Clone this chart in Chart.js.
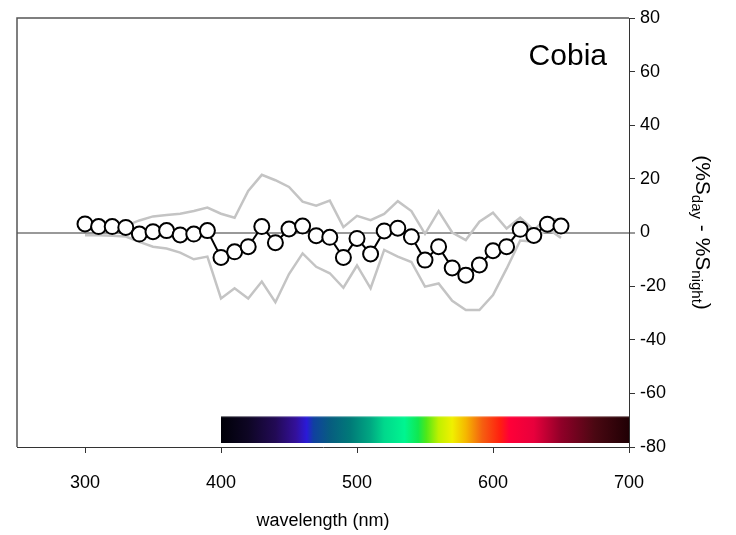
<!DOCTYPE html>
<html lang="en">
<head>
<meta charset="UTF-8">
<title>Cobia - day/night difference</title>
<style>
body { margin:0; padding:0; background:#fff; }
#wrap { width:736px; height:535px; }
</style>
</head>
<body>
<div id="wrap"><canvas id="chart" width="736" height="535"></canvas></div>
<script src="https://cdn.jsdelivr.net/npm/chart.js"></script>
<script>
// data
const wavelengths = [300,310,320,330,340,350,360,370,380,390,400,410,420,430,440,450,460,470,
                     480,490,500,510,520,530,540,550,560,570,580,590,600,610,620,630,640,650];
const difference = [3.2,2.2,2.2,1.9,-0.6,0.3,0.7,-0.9,-0.6,0.7,-9.3,-7.2,-5.3,2.2,-3.8,1.3,2.4,-1.2,
                    -1.8,-9.3,-2.2,-8.0,0.6,1.6,-1.6,-10.3,-5.3,-13.2,-15.9,-12.1,-6.8,-5.3,1.2,-1.1,3.1,2.4];
const upperBound = [2.5,2.5,2.5,2.5,4.5,6,6.5,7,8,9.3,7,5.5,15.5,21.5,19.5,17,11.5,10,
                    11.9,2,6.2,4.6,6.9,11.7,8,-0.5,8,0,-2.8,4,7.4,1.5,5.5,1,5.5,4.5];
const lowerBound = [-1,-1,-1.2,-1.5,-3.5,-5.3,-6,-7.5,-10,-9,-24.6,-20.8,-24.6,-18.3,-26,-15.5,-7.8,-12.8,
                    -15.2,-20.6,-12.3,-20.8,-6.5,-9,-11,-20.2,-19,-25.5,-28.9,-28.9,-23.3,-13.5,-3,-3.4,1.6,-2];
const spectrumRange = [400, 700];
const spectrumLevels = [-68.5, -78.5];
const xTicks = [300, 400, 500, 600, 700];
const yTicks = [-80, -60, -40, -20, 0, 20, 40, 60, 80];
const panelTitle = 'Cobia';

// colour stops of the visible spectrum bar
const spectrumStops = [
  [400,'#000008'],[420,'#0e0624'],[440,'#220a55'],[455,'#33109a'],[463,'#2a1ad8'],[468,'#1040a0'],
  [480,'#075c80'],[495,'#007a78'],[510,'#00a882'],[520,'#00d88c'],[535,'#00f590'],[545,'#10e850'],
  [551,'#50e818'],[560,'#c0f000'],[570,'#f0f000'],[580,'#f5b800'],[592,'#f56010'],[605,'#ff2010'],
  [612,'#ff0038'],[630,'#e8003c'],[650,'#900028'],[675,'#4a0812'],[700,'#200004']
];

const FONT = '"Liberation Sans", Arial, sans-serif';
const pts = arr => wavelengths.map((w, i) => ({ x: w, y: arr[i] }));

function spectrumFill(context) {
  const chart = context.chart;
  const { ctx, chartArea, scales } = chart;
  if (!chartArea) return 'rgba(0,0,0,0)';
  const x0 = scales.x.getPixelForValue(spectrumRange[0]);
  const x1 = scales.x.getPixelForValue(spectrumRange[1]);
  const g = ctx.createLinearGradient(x0, 0, x1, 0);
  const span = spectrumRange[1] - spectrumRange[0];
  spectrumStops.forEach(([w, c]) => g.addColorStop((w - spectrumRange[0]) / span, c));
  return g;
}

const decorations = {
  id: 'decorations',
  afterDraw(chart) {
    const { ctx, chartArea: a } = chart;
    ctx.save();
    // left + top frame
    ctx.strokeStyle = '#555';
    ctx.lineWidth = 1.5;
    ctx.beginPath();
    ctx.moveTo(a.left, a.bottom);
    ctx.lineTo(a.left, a.top);
    ctx.lineTo(a.right, a.top);
    ctx.stroke();

    ctx.fillStyle = '#000';
    ctx.font = '30px ' + FONT;
    ctx.textAlign = 'right';
    ctx.textBaseline = 'alphabetic';
    ctx.fillText(panelTitle, a.right - 22, a.top + 47);

    // right axis title with subscripts, rotated clockwise
    const parts = [['(%S', false], ['day', true], [' - %S', false], ['night', true], [')', false]];
    const mainFont = '21px ' + FONT, subFont = '15px ' + FONT;
    let total = 0;
    parts.forEach(([t, sub]) => { ctx.font = sub ? subFont : mainFont; total += ctx.measureText(t).width; });
    ctx.translate(702, (a.top + a.bottom) / 2);
    ctx.rotate(Math.PI / 2);
    ctx.textAlign = 'left';
    ctx.textBaseline = 'middle';
    let x = -total / 2;
    parts.forEach(([t, sub]) => {
      ctx.font = sub ? subFont : mainFont;
      ctx.fillText(t, x, sub ? 6 : 0);
      x += ctx.measureText(t).width;
    });
    ctx.restore();
  }
};

new Chart(document.getElementById('chart').getContext('2d'), {
  type: 'line',
  data: {
    datasets: [
      {
        data: pts(difference),
        borderColor: '#000', borderWidth: 2,
        pointRadius: 7.5, pointBorderWidth: 2,
        pointBackgroundColor: '#fff', pointBorderColor: '#000',
        fill: false, tension: 0
      },
      { data: pts(upperBound), borderColor: '#c4c4c4', borderWidth: 2.5, pointRadius: 0, fill: false, tension: 0 },
      { data: pts(lowerBound), borderColor: '#c4c4c4', borderWidth: 2.5, pointRadius: 0, fill: false, tension: 0 },
      {
        data: spectrumRange.map(w => ({ x: w, y: spectrumLevels[0] })),
        borderColor: 'rgba(255,255,255,0.3)', borderWidth: 2, pointRadius: 0,
        backgroundColor: spectrumFill, fill: '+1'
      },
      {
        data: spectrumRange.map(w => ({ x: w, y: spectrumLevels[1] })),
        borderWidth: 0, pointRadius: 0, fill: false
      }
    ]
  },
  options: {
    responsive: false,
    animation: false,
    events: [],
    layout: { padding: { left: 17, top: 18, right: 0, bottom: 0 } },
    plugins: { legend: { display: false }, tooltip: { enabled: false } },
    scales: {
      x: {
        type: 'linear', position: 'bottom', min: 250, max: 700,
        afterBuildTicks: s => { s.ticks = xTicks.map(v => ({ value: v })); },
        ticks: { font: { size: 18, family: FONT }, color: '#000', padding: 19, maxRotation: 0 },
        grid: { drawOnChartArea: false, tickLength: 6, tickColor: '#333', tickWidth: 1 },
        border: { color: '#333', width: 1 },
        title: { display: true, text: 'wavelength (nm)', color: '#000',
                 font: { size: 18, family: FONT }, padding: { top: 0, bottom: 3 } },
        afterFit: s => { s.height = 88; }
      },
      y: {
        type: 'linear', position: 'right', min: -80, max: 80,
        afterBuildTicks: s => { s.ticks = yTicks.map(v => ({ value: v })); },
        ticks: { font: { size: 18, family: FONT }, color: '#000', padding: 5 },
        grid: {
          drawOnChartArea: true, tickLength: 6, tickColor: '#333', tickWidth: 1,
          color: c => (c.tick && c.tick.value === 0 ? '#999' : 'rgba(0,0,0,0)'),
          lineWidth: c => (c.tick && c.tick.value === 0 ? 2 : 1)
        },
        border: { color: '#333', width: 1 },
        afterFit: s => { s.width = 107; }
      }
    }
  },
  plugins: [decorations]
});
</script>
</body>
</html>
